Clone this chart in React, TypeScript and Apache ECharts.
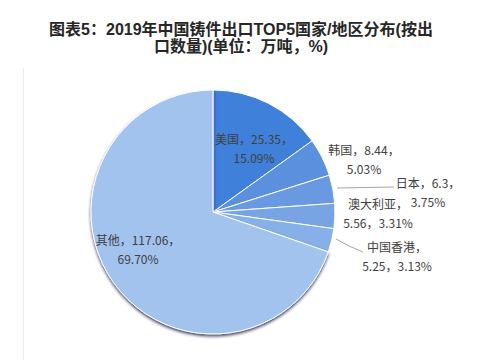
import React, { useEffect, useRef } from "react";
import * as echarts from "echarts";

const categories = ["美国", "韩国", "日本", "澳大利亚", "中国香港", "其他"];
const values = [25.35, 8.44, 6.3, 5.56, 5.25, 117.06];
const percents = ["15.09", "5.03", "3.75", "3.31", "3.13", "69.70"];
const colors = ["#3f80da", "#5a90de", "#699ae1", "#78a4e4", "#87afe8", "#a3c3ef"];
const titleLines = ["图表5：2019年中国铸件出口TOP5国家/地区分布(按出", "口数量)(单位：万吨，%)"];
// which label breaks after the name only
const breakAfterName = [false, false, false, true, true, false];
const showLine = [false, false, true, false, true, false];

// label anchor positions (label centres) and leader lines
const labelPos: [number, number][] = [
  [254, 148],
  [364, 159],
  [428, 192],
  [378, 213],
  [397, 256],
  [138, 249],
];
const linePts: ([number, number][] | null)[] = [
  null,
  null,
  [[337, 188], [365, 187.5], [394, 187]],
  null,
  [[336, 239], [349, 246], [363, 252]],
  null,
];

export default function App() {
  const ref = useRef<HTMLDivElement>(null);
  useEffect(() => {
    document.body.style.margin = "0";
    const chart = echarts.init(ref.current!, undefined, { renderer: "svg" });
    const font = "'Noto Sans CJK SC', 'Noto Sans', sans-serif";
    const titleFont = "'Liberation Sans', 'Noto Sans CJK SC', sans-serif";
    chart.setOption({
      animation: false,
      backgroundColor: "#ffffff",
      graphic: [
        {
          type: "line",
          shape: { x1: 23.5, y1: 68, x2: 23.5, y2: 360 },
          style: { stroke: "#ececec", lineWidth: 1 },
        },
        ...titleLines.map((t, i) => ({
          type: "text",
          x: 241,
          y: 29 + i * 17,
          style: {
            text: t,
            font: `bold 16px ${titleFont}`,
            fill: "#262626",
            align: "center",
            verticalAlign: "middle",
          },
        })),
      ],
      series: [
        {
          type: "pie",
          center: [213, 212],
          radius: 122,
          startAngle: 90,
          clockwise: true,
          avoidLabelOverlap: false,
          itemStyle: { borderColor: "#ffffff", borderWidth: 1 },
          label: {
            show: true,
            position: "outside",
            color: "#404040",
            fontSize: 12,
            fontFamily: font,
            lineHeight: 19,
            align: "center",
            formatter: (p: any) => {
              const i = p.dataIndex;
              return breakAfterName[i]
                ? `${categories[i]}，\n${values[i]}，${percents[i]}%`
                : `${categories[i]}，${values[i]}，\n${percents[i]}%`;
            },
          },
          labelLine: { show: true, lineStyle: { color: "#a6a6a6", width: 1 } },
          labelLayout: (params: any) => {
            const i = params.dataIndex;
            const res: any = {
              x: labelPos[i][0],
              y: labelPos[i][1],
              align: "center",
              verticalAlign: "middle",
            };
            if (linePts[i]) res.labelLinePoints = linePts[i];
            return res;
          },
          data: categories.map((name, i) => ({
            name,
            value: values[i],
            itemStyle:
              i === 5
                ? {
                    color: colors[i],
                    shadowColor: "rgba(20,30,60,0.8)",
                    shadowBlur: 3,
                    shadowOffsetY: 2,
                  }
                : { color: colors[i] },
            labelLine: { show: showLine[i] },
          })),
        },
      ],
    });
    return () => chart.dispose();
  }, []);
  return <div ref={ref} style={{ width: 498, height: 360 }} />;
}
